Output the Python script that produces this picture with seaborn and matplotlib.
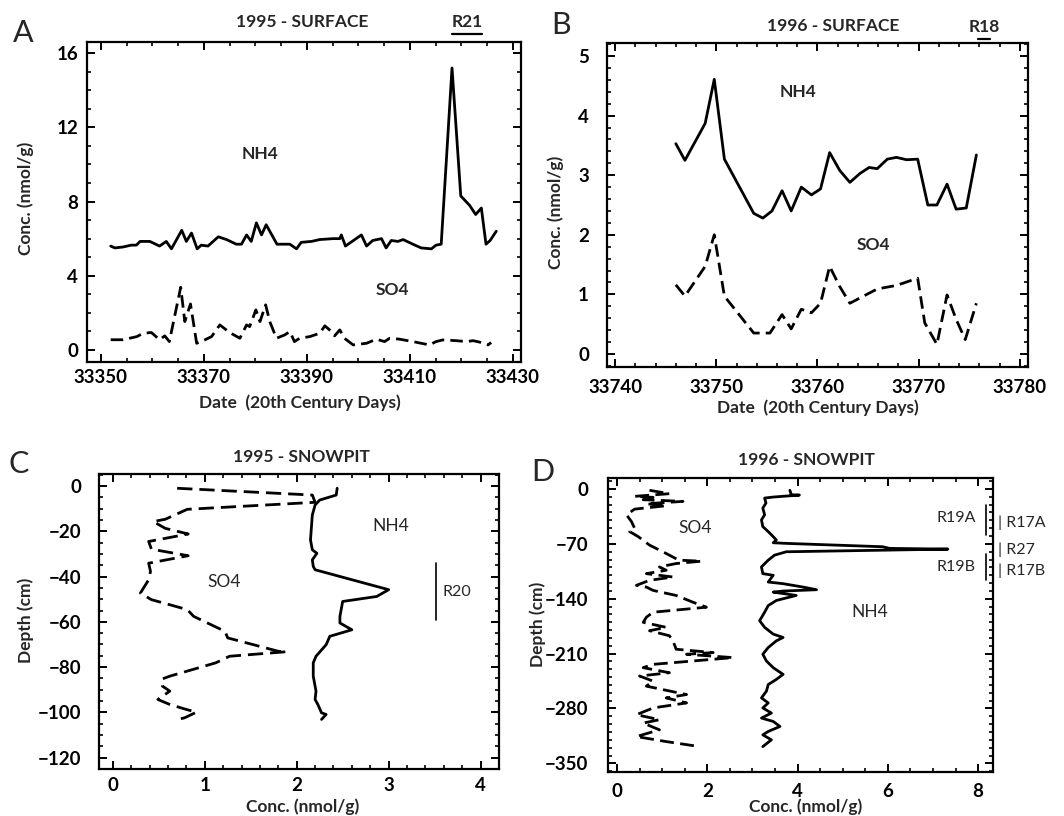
import numpy as np
import pandas as pd
import matplotlib
matplotlib.use("Agg")
import matplotlib.pyplot as plt
import seaborn as sns
from matplotlib.ticker import MultipleLocator
from matplotlib.transforms import blended_transform_factory

# ---------------- Panel A : 1995 surface ----------------
a_days_nh4 = [33351.9, 33352.7, 33354.3, 33355.9, 33356.9, 33357.6, 33359.5, 33361.4, 33362.7, 33363.7,
              33365.7, 33366.6, 33367.6, 33368.7, 33369.5, 33370.8, 33372.8, 33374.4, 33376.3, 33377.3,
              33378.3, 33379.2, 33380.2, 33381.2, 33382.1, 33384.2, 33386.7, 33388.0, 33388.9, 33390.9,
              33392.5, 33395.1, 33396.4, 33396.7, 33397.5, 33400.6, 33401.6, 33402.8, 33404.5, 33405.4,
              33406.4, 33407.7, 33408.7, 33410.6, 33412.2, 33414.2, 33415.1, 33416.1, 33418.2, 33419.9,
              33421.6, 33422.8, 33423.9, 33424.8, 33425.6, 33426.8]
a_nh4 = [5.6, 5.5, 5.55, 5.65, 5.65, 5.85, 5.85, 5.6, 5.85, 5.45,
         6.45, 5.85, 6.3, 5.45, 5.65, 5.6, 6.1, 5.95, 5.7, 5.7,
         6.2, 5.85, 6.85, 6.2, 6.75, 5.7, 5.7, 5.45, 5.8, 5.85,
         5.95, 6.0, 6.0, 6.2, 5.6, 6.2, 5.6, 5.9, 6.0, 5.5,
         5.9, 5.85, 5.95, 5.7, 5.5, 5.45, 5.65, 5.7, 15.2, 8.3,
         7.8, 7.3, 7.65, 5.7, 5.9, 6.4]
a_days_so4 = [33351.9, 33354.3, 33357.0, 33358.2, 33359.8, 33361.4, 33362.4, 33363.3, 33365.5, 33366.3,
              33367.4, 33368.6, 33369.5, 33371.5, 33373.1, 33375.0, 33377.0, 33378.3, 33378.9, 33380.1,
              33380.9, 33382.0, 33382.8, 33384.1, 33385.7, 33386.7, 33387.6, 33388.6, 33390.6, 33392.5,
              33393.5, 33394.8, 33395.4, 33396.4, 33397.3, 33399.0, 33401.6, 33403.5, 33405.1, 33406.1,
              33408.0, 33410.6, 33412.2, 33413.8, 33415.1, 33416.4, 33419.0, 33421.0, 33422.3, 33423.9,
              33425.2, 33425.8]
a_so4 = [0.55, 0.55, 0.72, 0.9, 0.94, 0.55, 0.76, 0.45, 3.38, 1.53,
         2.48, 0.36, 0.45, 0.72, 1.35, 0.94, 0.63, 1.35, 1.26, 2.16,
         1.53, 2.43, 1.53, 0.63, 0.81, 0.99, 0.45, 0.63, 0.72, 0.9,
         1.3, 0.99, 0.76, 1.08, 0.63, 0.27, 0.36, 0.58, 0.45, 0.63,
         0.58, 0.45, 0.36, 0.27, 0.45, 0.54, 0.5, 0.45, 0.5, 0.4,
         0.27, 0.4]

# ---------------- Panel B : 1996 surface ----------------
b_days_nh4 = [33746.0, 33746.9, 33748.9, 33749.8, 33750.8, 33753.7, 33754.6, 33755.5, 33756.5, 33757.4,
              33758.4, 33759.4, 33760.3, 33761.2, 33762.2, 33763.2, 33764.2, 33765.1, 33765.9, 33766.9,
              33767.8, 33768.8, 33769.9, 33770.9, 33771.8, 33772.8, 33773.7, 33774.7, 33775.7]
b_nh4 = [3.53, 3.25, 3.87, 4.61, 3.27, 2.36, 2.28, 2.40, 2.74, 2.40,
         2.80, 2.67, 2.77, 3.38, 3.08, 2.88, 3.03, 3.13, 3.11, 3.27,
         3.30, 3.26, 3.27, 2.50, 2.50, 2.85, 2.43, 2.45, 3.34]
b_days_so4 = [33746.0, 33746.9, 33748.9, 33749.8, 33750.8, 33753.7, 33755.3, 33756.5, 33757.4, 33758.4,
              33759.4, 33760.3, 33761.2, 33762.2, 33763.2, 33764.2, 33765.9, 33767.8, 33769.9, 33770.6,
              33771.8, 33772.8, 33773.7, 33774.6, 33775.7]
b_so4 = [1.16, 0.97, 1.47, 2.0, 0.97, 0.35, 0.35, 0.66, 0.42, 0.75,
         0.69, 0.85, 1.47, 1.13, 0.85, 0.94, 1.09, 1.15, 1.27, 0.52,
         0.16, 0.99, 0.58, 0.24, 0.85]

# ---------------- Panel C : 1995 snowpit ----------------
c_depth_nh4 = [-1.0, -4.0, -6.2, -8.4, -12.8, -23.8, -28.2, -29.7, -32.6, -35.5, -37.0, -39.2, -45.8,
               -48.8, -51.0, -57.6, -60.5, -63.5, -66.4, -70.1, -75.2, -78.1, -84.0, -90.6, -94.3,
               -96.5, -100.2, -100.9, -103.1]
c_nh4 = [2.44, 2.43, 2.25, 2.20, 2.17, 2.15, 2.17, 2.22, 2.17, 2.18, 2.20, 2.40, 3.0,
         2.87, 2.50, 2.47, 2.47, 2.60, 2.36, 2.32, 2.21, 2.18, 2.18, 2.21, 2.20,
         2.23, 2.27, 2.32, 2.27]
c_depth_so4 = [-1.0, -4.0, -7.2, -10.3, -14.7, -15.7, -18.7, -21.2, -24.5, -27.9, -30.8, -34.1, -37.7,
               -41.4, -47.3, -50.2, -54.6, -57.6, -64.2, -67.1, -73.0, -73.2, -75.2, -78.1, -84.0,
               -85.2, -88.4, -90.6, -94.3, -96.5, -98.7, -99.9, -102.4, -103.1]
c_so4 = [0.70, 2.17, 2.20, 0.81, 0.57, 0.44, 0.57, 0.82, 0.39, 0.42, 0.82, 0.39, 0.41,
         0.39, 0.30, 0.42, 0.81, 0.88, 1.22, 1.25, 1.80, 1.89, 1.27, 1.12, 0.62,
         0.54, 0.54, 0.62, 0.49, 0.62, 0.80, 0.91, 0.78, 0.71]

# ---------------- Panel D : 1996 snowpit ----------------
d_depth_nh4 = [-1.7, -7.3, -7.8, -10.3, -11.6, -18.0, -24.4, -33.0, -39.4, -48.0, -54.4, -60.8, -65.1,
               -68.6, -69.4, -73.7, -75.8, -76.7, -78.0, -80.1, -84.4, -90.8, -99.4, -108.0, -110.1,
               -118.7, -120.8, -125.1, -128.5, -130.2, -131.5, -135.8, -142.2, -148.7, -157.2, -168.0,
               -176.5, -185.1, -189.4, -193.7, -202.2, -210.8, -219.4, -227.9, -236.5, -242.9, -249.4,
               -257.9, -266.5, -272.9, -279.3, -285.8, -292.2, -296.5, -302.9, -309.3, -313.6, -320.0,
               -328.6]
d_nh4 = [3.83, 3.86, 4.04, 3.46, 3.27, 3.30, 3.23, 3.27, 3.20, 3.23, 3.35, 3.46, 3.53,
         3.46, 3.75, 5.89, 6.04, 7.33, 5.97, 3.75, 3.49, 3.35, 3.20, 3.23, 3.46,
         3.35, 3.68, 4.12, 4.42, 3.68, 3.46, 3.97, 3.53, 3.35, 3.27, 3.16,
         3.27, 3.46, 3.68, 3.53, 3.35, 3.23, 3.31, 3.46, 3.68, 3.53, 3.35,
         3.31, 3.20, 3.35, 3.23, 3.42, 3.20, 3.46, 3.61, 3.35, 3.23, 3.42,
         3.23]
d_depth_so4 = [-1.7, -6.0, -9.4, -10.7, -13.7, -15.8, -18.9, -21.4, -25.7, -33.0, -41.6, -50.1, -54.4,
               -60.8, -71.6, -82.3, -90.8, -92.1, -95.1, -99.4, -103.7, -108.0, -112.3, -116.5, -122.9,
               -125.1, -129.4, -135.8, -144.4, -150.8, -157.2, -163.6, -170.1, -176.5, -180.8, -187.2,
               -193.7, -204.4, -208.7, -210.8, -215.1, -219.4, -223.7, -227.9, -234.4, -238.6, -245.1,
               -251.5, -262.2, -266.5, -272.9, -279.3, -287.9, -294.3, -298.6, -307.2, -315.8, -322.2,
               -328.6]
d_so4 = [0.72, 1.16, 0.39, 0.80, 0.58, 1.46, 0.65, 1.09, 0.39, 0.21, 0.32, 0.39, 0.28,
         0.47, 0.72, 1.09, 1.37, 1.87, 1.31, 0.94, 1.09, 0.65, 1.24, 0.72, 0.43,
         0.65, 0.80, 1.31, 1.68, 1.98, 0.80, 0.65, 0.58, 1.09, 0.72, 1.16,
         1.24, 1.31, 2.13, 1.54, 2.57, 1.68, 0.80, 0.58, 1.16, 0.50, 0.80,
         0.65, 1.54, 1.09, 1.54, 0.80, 0.43, 0.94, 0.58, 0.94, 0.43, 1.09,
         1.83]

# annotation event ranges
r21_range = [33418.2, 33424.0]
r18_range = [33775.9, 33777.0]
r20_depth = [-34.1, -59.1]
r19a_depth = [-20.0, -58.7]
r19b_depth = [-83.0, -116.5]

# ---------------- style ----------------
sns.set_theme(style="ticks")
plt.rcParams["font.family"] = ["Lato", "DejaVu Sans"]
plt.rcParams.update({
    "font.weight": "bold",
    "axes.linewidth": 1.6,
    "xtick.direction": "in", "ytick.direction": "in",
    "xtick.top": True, "ytick.right": True,
    "xtick.major.size": 6, "ytick.major.size": 6,
    "xtick.minor.size": 3, "ytick.minor.size": 3,
    "xtick.major.width": 1.4, "ytick.major.width": 1.4,
    "xtick.minor.width": 1.2, "ytick.minor.width": 1.2,
    "axes.edgecolor": "black",
    "xtick.color": "black", "ytick.color": "black",
    "xtick.labelsize": 13.5, "ytick.labelsize": 13.5,
})

W, H = 1064, 816
fig = plt.figure(figsize=(W / 100, H / 100), dpi=100)


def box(l, t, r, b):
    return [l / W, 1 - b / H, (r - l) / W, (b - t) / H]


axA = fig.add_axes(box(87, 42, 521, 362))
axB = fig.add_axes(box(607, 43, 1028, 367))
axC = fig.add_axes(box(99, 474, 499, 769))
axD = fig.add_axes(box(608, 478, 993, 772))

LW = 2.0


def series(ax, x, y, dashed=False, dash=(4.5, 2.2)):
    df = pd.DataFrame({"x": x, "y": y})
    kw = dict(color="black", linewidth=LW)
    if dashed:
        kw["linestyle"] = (0, dash)
    sns.lineplot(data=df, x="x", y="y", ax=ax, sort=False, estimator=None, **kw)


series(axA, a_days_nh4, a_nh4)
series(axA, a_days_so4, a_so4, dashed=True)
series(axB, b_days_nh4, b_nh4)
series(axB, b_days_so4, b_so4, dashed=True)
series(axC, c_nh4, c_depth_nh4)
series(axC, c_so4, c_depth_so4, dashed=True, dash=(5.5, 2.5))
series(axD, d_nh4, d_depth_nh4)
series(axD, d_so4, d_depth_so4, dashed=True, dash=(5.0, 2.3))

axA.set_xlim(33347.3, 33431.6); axA.set_ylim(-0.65, 16.6)
axA.xaxis.set_major_locator(MultipleLocator(20, offset=10)); axA.xaxis.set_minor_locator(MultipleLocator(5))
axA.yaxis.set_major_locator(MultipleLocator(4)); axA.yaxis.set_minor_locator(MultipleLocator(1))

axB.set_xlim(33739.2, 33780.8); axB.set_ylim(-0.22, 5.22)
axB.xaxis.set_major_locator(MultipleLocator(10)); axB.xaxis.set_minor_locator(MultipleLocator(2))
axB.yaxis.set_major_locator(MultipleLocator(1)); axB.yaxis.set_minor_locator(MultipleLocator(0.2))

axC.set_xlim(-0.15, 4.2); axC.set_ylim(-125, 5.3)
axC.xaxis.set_major_locator(MultipleLocator(1)); axC.xaxis.set_minor_locator(MultipleLocator(0.2))
axC.yaxis.set_major_locator(MultipleLocator(20)); axC.yaxis.set_minor_locator(MultipleLocator(5))

axD.set_xlim(-0.2, 8.33); axD.set_ylim(-361, 14)
axD.xaxis.set_major_locator(MultipleLocator(2)); axD.xaxis.set_minor_locator(MultipleLocator(0.5))
axD.yaxis.set_major_locator(MultipleLocator(70)); axD.yaxis.set_minor_locator(MultipleLocator(10))

pads_y = {axA: 6.5, axB: 13, axC: 13, axD: 14}
pads_x = {axA: 5, axB: 9, axC: 6, axD: 8}
for ax in (axA, axB, axC, axD):
    ax.tick_params(which="both", top=True, right=True, direction="in")
    ax.tick_params(axis="y", which="major", pad=pads_y[ax])
    ax.tick_params(axis="x", which="major", pad=pads_x[ax])
    for s in ax.spines.values():
        s.set_visible(True)
    ax.set_xlabel("")
    ax.set_ylabel("")

# axis labels (figure text at measured positions)
labfs = 12.5
fig.text(300 / W, 1 - 403 / H, "Date  (20th Century Days)", ha="center", va="center", fontsize=labfs)
fig.text(818 / W, 1 - 408 / H, "Date  (20th Century Days)", ha="center", va="center", fontsize=labfs)
fig.text(303 / W, 1 - 807 / H, "Conc. (nmol/g)", ha="center", va="center", fontsize=labfs)
fig.text(806 / W, 1 - 807 / H, "Conc. (nmol/g)", ha="center", va="center", fontsize=labfs)
fig.text(26 / W, 1 - 198 / H, "Conc. (nmol/g)", ha="center", va="center", rotation=90, fontsize=labfs)
fig.text(556 / W, 1 - 212 / H, "Conc. (nmol/g)", ha="center", va="center", rotation=90, fontsize=labfs)
fig.text(26 / W, 1 - 620 / H, "Depth (cm)", ha="center", va="center", rotation=90, fontsize=labfs)
fig.text(538 / W, 1 - 624 / H, "Depth (cm)", ha="center", va="center", rotation=90, fontsize=labfs)

# titles
tfs = 12.5
fig.text(302 / W, 1 - 22 / H, "1995 - SURFACE", ha="center", va="center", fontsize=tfs)
fig.text(833 / W, 1 - 26 / H, "1996 - SURFACE", ha="center", va="center", fontsize=tfs)
fig.text(301 / W, 1 - 457 / H, "1995 - SNOWPIT", ha="center", va="center", fontsize=tfs)
fig.text(806 / W, 1 - 460 / H, "1996 - SNOWPIT", ha="center", va="center", fontsize=tfs)

# panel letters
pfs = 22
fig.text(23 / W, 1 - 33 / H, "A", ha="center", va="center", fontsize=pfs, fontweight="normal")
fig.text(561 / W, 1 - 25 / H, "B", ha="center", va="center", fontsize=pfs, fontweight="normal")
fig.text(19 / W, 1 - 464 / H, "C", ha="center", va="center", fontsize=pfs, fontweight="normal")
fig.text(543 / W, 1 - 472 / H, "D", ha="center", va="center", fontsize=pfs, fontweight="normal")

# series labels
sfs = 12.5
axA.text(33380.9, 10.56, "NH4", ha="center", va="center", fontsize=sfs)
axA.text(33406.7, 3.23, "SO4", ha="center", va="center", fontsize=sfs)
axB.text(33758.1, 4.39, "NH4", ha="center", va="center", fontsize=sfs)
axB.text(33765.5, 1.83, "SO4", ha="center", va="center", fontsize=sfs)
axC.text(3.02, -17.7, "NH4", ha="center", va="center", fontsize=sfs, fontweight="normal")
axC.text(1.21, -42.2, "SO4", ha="center", va="center", fontsize=sfs, fontweight="normal")
axD.text(1.72, -50.1, "SO4", ha="center", va="center", fontsize=sfs, fontweight="normal")
axD.text(5.6, -157.2, "NH4", ha="center", va="center", fontsize=sfs, fontweight="normal")

# event annotations
trA = blended_transform_factory(axA.transData, fig.transFigure)
axA.text(np.mean(r21_range), 1 - 22 / H, "R21", transform=trA, ha="center", va="center", fontsize=tfs)
axA.plot(r21_range, [1 - 34 / H] * 2, transform=trA, color="black", lw=1.6, clip_on=False)
trB = blended_transform_factory(axB.transData, fig.transFigure)
axB.text(33776.5, 1 - 27 / H, "R18", transform=trB, ha="center", va="center", fontsize=tfs)
axB.plot(r18_range, [1 - 39 / H] * 2, transform=trB, color="black", lw=1.6, clip_on=False)

axC.plot([3.51, 3.51], r20_depth, color="black", lw=1.2)
axC.text(3.74, -46.6, "R20", ha="center", va="center", fontsize=11.5, fontweight="normal")

afs = 11.5
axD.plot([8.18, 8.18], r19a_depth, color="black", lw=1.2)
axD.plot([8.18, 8.18], r19b_depth, color="black", lw=1.2)
axD.text(7.95, -37.0, "R19A", ha="right", va="center", fontsize=afs, fontweight="normal")
axD.text(7.95, -99.0, "R19B", ha="right", va="center", fontsize=afs, fontweight="normal")
axD.text(8.45, -43.7, "| R17A", ha="left", va="center", fontsize=afs, fontweight="normal", clip_on=False)
axD.text(8.45, -78.0, "| R27", ha="left", va="center", fontsize=afs, fontweight="normal", clip_on=False)
axD.text(8.45, -103.7, "| R17B", ha="left", va="center", fontsize=afs, fontweight="normal", clip_on=False)

fig.savefig("out.png", dpi=100)
